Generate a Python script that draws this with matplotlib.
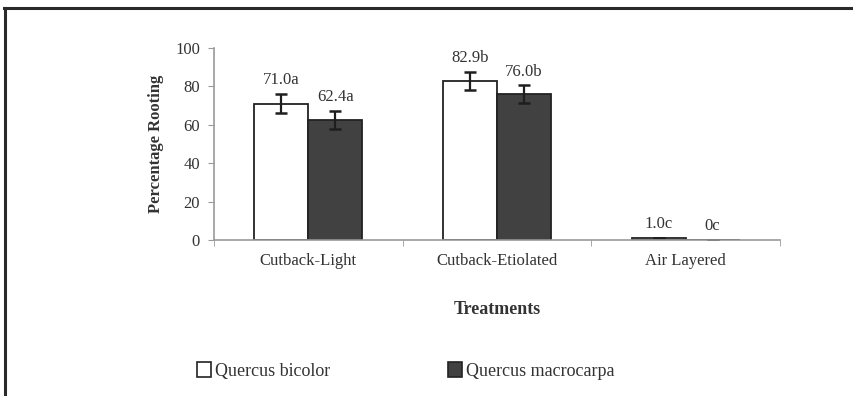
import numpy as np
import matplotlib as mpl

mpl.use('Agg')
import matplotlib.pyplot as plt
from matplotlib.patches import Patch
from matplotlib.lines import Line2D

plt.rcParams['font.family'] = ['Liberation Serif', 'DejaVu Serif']

treatments = ['Cutback-Light', 'Cutback-Etiolated', 'Air Layered']
species = ['Quercus bicolor', 'Quercus macrocarpa']
bicolor = [71.0, 82.9, 1.0]
macrocarpa = [62.4, 76.0, 0.0]
bicolor_err = [5.0, 4.6, 0.0]
macrocarpa_err = [4.8, 4.5, 0.0]
bicolor_lbl = ['71.0a', '82.9b', '1.0c']
macrocarpa_lbl = ['62.4a', '76.0b', '0c']

text_col = '#333333'
axis_col = '#999999'
dark = '#414141'

fig = plt.figure(figsize=(8.54, 3.96), dpi=100)
ax = fig.add_axes([0.2506, 0.3939, 0.6627, 0.4849])

x = np.arange(len(treatments))
w = 0.286

ekw = dict(ecolor='#1e1e1e', elinewidth=1.6, capsize=4.5, capthick=1.8)
ax.bar(x - w / 2, bicolor, w, color='white', edgecolor='#222222', linewidth=1.3,
       yerr=bicolor_err, error_kw=ekw)
ax.bar(x + w / 2, macrocarpa, w, color=dark, edgecolor='#222222', linewidth=1.3,
       yerr=macrocarpa_err, error_kw=ekw)

# letters from the mean separation test above each bar
for i in range(len(treatments)):
    ax.text(x[i] - w / 2, bicolor[i] + bicolor_err[i] + 3, bicolor_lbl[i],
            ha='center', va='bottom', fontsize=12, color=text_col)
    ax.text(x[i] + w / 2, macrocarpa[i] + macrocarpa_err[i] + 3, macrocarpa_lbl[i],
            ha='center', va='bottom', fontsize=12, color=text_col)

ax.set_xlim(-0.5, len(treatments) - 0.5)
ax.set_ylim(0, 100)
ax.set_yticks(range(0, 101, 20))
ax.set_xticks(x)
ax.set_xticklabels(treatments)
ax.set_xticks(np.arange(-0.5, len(treatments)), minor=True)
ax.tick_params(axis='x', which='major', length=0, pad=9, labelsize=12, labelcolor=text_col)
ax.tick_params(axis='x', which='minor', length=4, color=axis_col, direction='out')
ax.tick_params(axis='y', length=4, color=axis_col, labelsize=12, labelcolor=text_col, pad=6)

for s in ['top', 'right']:
    ax.spines[s].set_visible(False)
for s in ['left', 'bottom']:
    ax.spines[s].set_color(axis_col)
    ax.spines[s].set_linewidth(1.2)

ax.set_ylabel('Percentage Rooting', fontsize=12, fontweight='bold', color=text_col, labelpad=8)
fig.text(0.582, 1 - 309 / 396, 'Treatments', ha='center', va='center',
         fontsize=13, fontweight='bold', color=text_col)

handles = [Patch(facecolor='white', edgecolor='#222222', linewidth=1.2),
           Patch(facecolor=dark, edgecolor='#222222', linewidth=1.2)]
fig.legend(handles, species, loc='center left', bbox_to_anchor=(0.212, 1 - 371 / 396),
           ncol=2, frameon=False, fontsize=13, handlelength=0.75, handleheight=0.85,
           handletextpad=0.25, columnspacing=6.5, labelcolor=text_col)

# frame around the figure
fig.add_artist(Line2D([4 / 854, 1], [1 - 8 / 396, 1 - 8 / 396], transform=fig.transFigure,
                      color='#2a2a2a', linewidth=2.2))
fig.add_artist(Line2D([5 / 854, 5 / 854], [0, 1 - 8 / 396], transform=fig.transFigure,
                      color='#2a2a2a', linewidth=2.2))

fig.savefig('out.png', dpi=100, facecolor='white')
